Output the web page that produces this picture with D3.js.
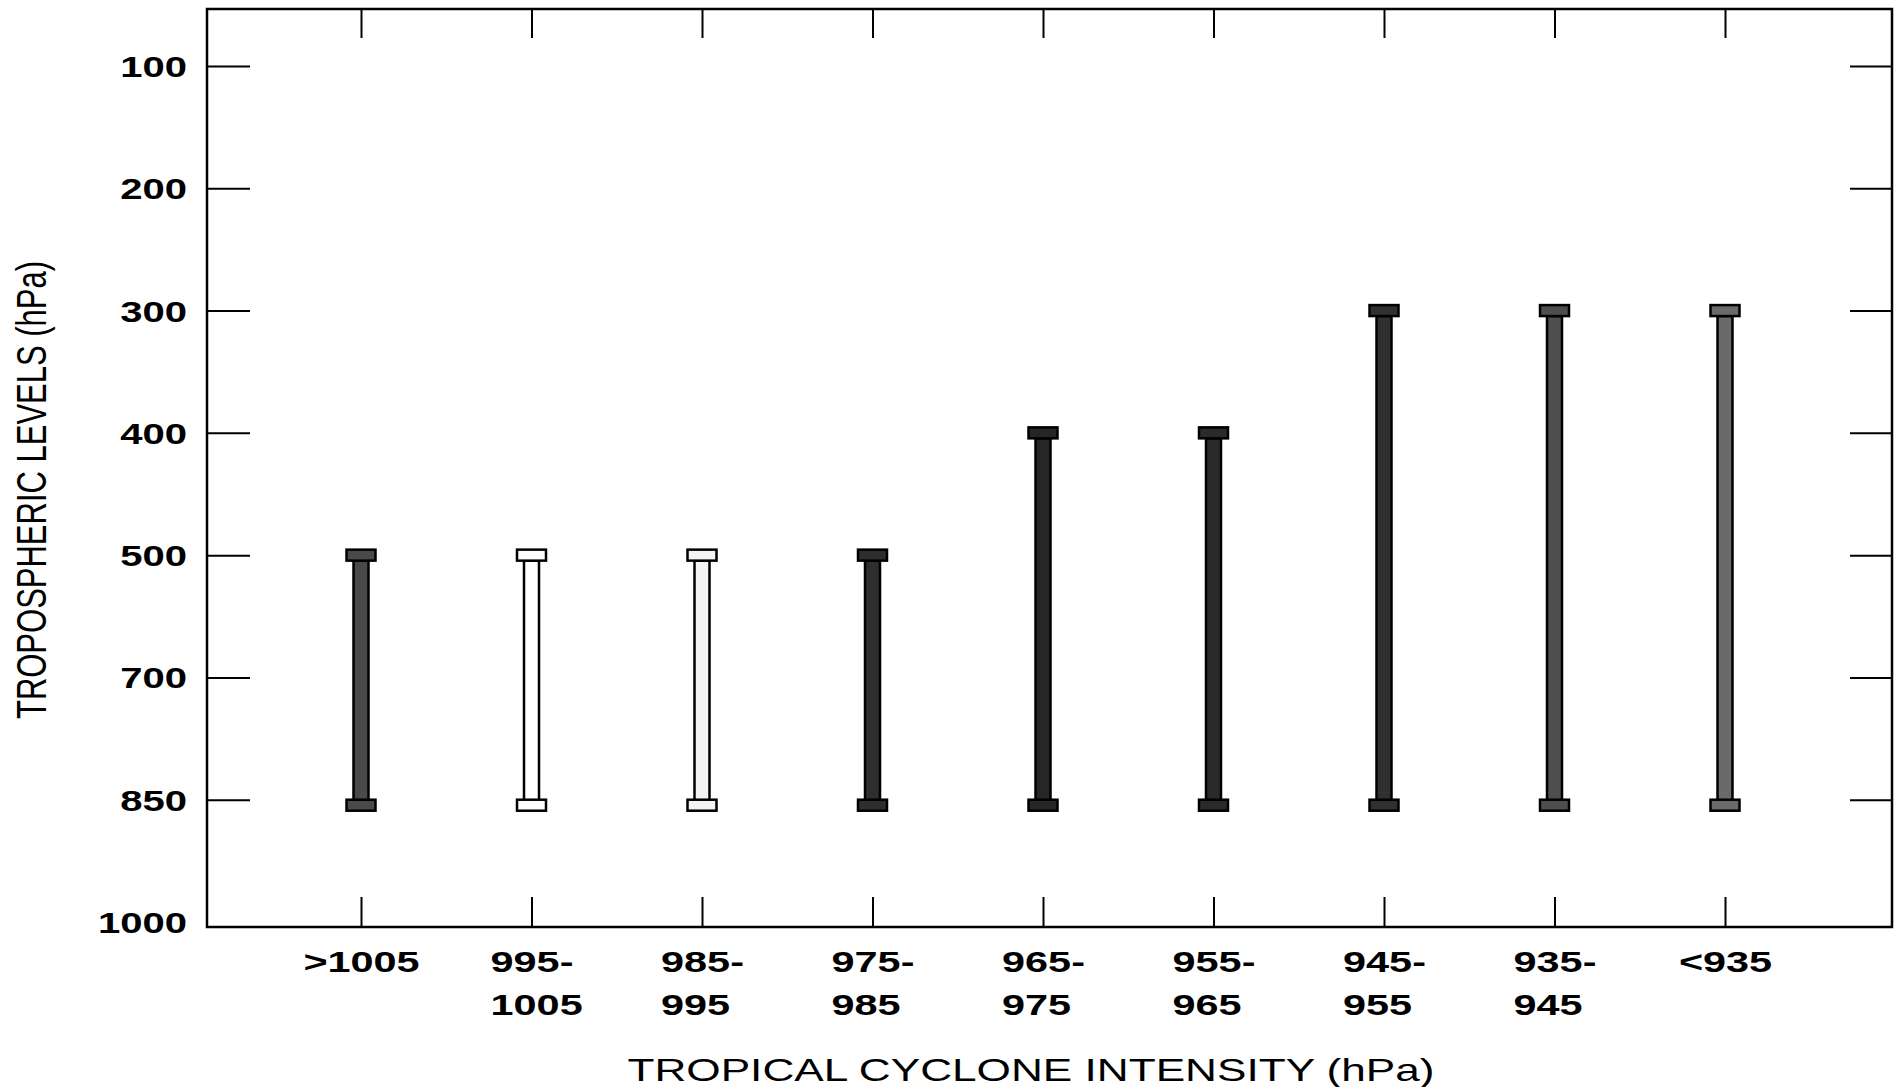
<!DOCTYPE html>
<html>
<head>
<meta charset="utf-8">
<script src="https://cdn.jsdelivr.net/npm/d3@7"></script>
<style>
  html, body { margin: 0; padding: 0; background: #fff; }
  svg { display: block; font-family: "Liberation Sans", Arial, Helvetica, sans-serif; }
</style>
</head>
<body>
<svg id="chart" width="1899" height="1087"></svg>
<script>
// ---------- data ----------
const categories = [">1005", "995-|1005", "985-|995", "975-|985", "965-|975", "955-|965", "945-|955", "935-|945", "<935"];
const topLevels    = [500, 500, 500, 500, 400, 400, 300, 300, 300];
const bottomLevels = [850, 850, 850, 850, 850, 850, 850, 850, 850];
const levelTicks = [100, 200, 300, 400, 500, 700, 850, 1000];
const xTitle = "TROPICAL CYCLONE INTENSITY (hPa)";
const yTitle = "TROPOSPHERIC LEVELS (hPa)";

// ---------- style ----------
const barFills = ["#4a4a4a", "#ffffff", "#f4f4f4", "#2e2e2e", "#262626", "#2a2a2a", "#303030", "#4e4e4e", "#6a6a6a"];
const SX = 1.38; // horizontal stretch of the scanned original
const frame = { left: 207, right: 1892, top: 9, bottom: 927 };

const svg = d3.select("#chart");

const x = d3.scalePoint().domain(categories).range([361, 1725]);
const y = d3.scalePoint().domain(levelTicks).range([66, 922]);

// frame
svg.append("rect")
  .attr("x", frame.left).attr("y", frame.top)
  .attr("width", frame.right - frame.left).attr("height", frame.bottom - frame.top)
  .attr("fill", "none").attr("stroke", "#000").attr("stroke-width", 2.5);

// left axis (inward ticks + labels)
const yLeft = svg.append("g")
  .attr("transform", `translate(${frame.left},0)`)
  .call(d3.axisLeft(y).tickSize(-43).tickSizeOuter(0).tickPadding(0));
yLeft.select(".domain").remove();
yLeft.selectAll(".tick line").attr("stroke", "#000").attr("stroke-width", 2)
  .filter(d => d === 1000).remove();
yLeft.selectAll(".tick text")
  .attr("x", 0).attr("dy", "0.36em")
  .attr("transform", `translate(-20,0) scale(${SX},1)`)
  .attr("text-anchor", "end")
  .attr("font-size", 29).attr("font-weight", "bold")
  .attr("font-family", "'Liberation Sans', Arial, sans-serif")
  .attr("fill", "#000");

// right axis (inward ticks only)
const yRight = svg.append("g")
  .attr("transform", `translate(${frame.right},0)`)
  .call(d3.axisRight(y).tickValues(levelTicks.filter(v => v !== 1000)).tickSize(-42).tickSizeOuter(0).tickFormat(""));
yRight.select(".domain").remove();
yRight.selectAll(".tick line").attr("stroke", "#000").attr("stroke-width", 2);

// top axis (inward ticks only)
const xTop = svg.append("g")
  .attr("transform", `translate(0,${frame.top})`)
  .call(d3.axisTop(x).tickSize(-29).tickSizeOuter(0).tickFormat(""));
xTop.select(".domain").remove();
xTop.selectAll(".tick line").attr("stroke", "#000").attr("stroke-width", 2);

// bottom axis (inward ticks + two-line labels)
const xBottom = svg.append("g")
  .attr("transform", `translate(0,${frame.bottom})`)
  .call(d3.axisBottom(x).tickSize(-30).tickSizeOuter(0).tickFormat(""));
xBottom.select(".domain").remove();
xBottom.selectAll(".tick line").attr("stroke", "#000").attr("stroke-width", 2);
xBottom.selectAll(".tick text").remove();
xBottom.selectAll(".tick").each(function(d) {
  const lines = d.split("|");
  const g = d3.select(this).append("g").attr("transform", `scale(${SX},1)`);
  const t1 = g.append("text")
    .attr("y", 45).attr("font-size", 30).attr("font-weight", "bold")
    .attr("fill", "#000").attr("text-anchor", "start")
    .text(lines[0]);
  const w = t1.node().getComputedTextLength();
  t1.attr("x", -w / 2);
  if (lines[1]) {
    g.append("text")
      .attr("x", -w / 2).attr("y", 88).attr("font-size", 30).attr("font-weight", "bold")
      .attr("fill", "#000").attr("text-anchor", "start")
      .text(lines[1]);
  }
});

// bars (I-beam columns)
const capW = 29, capH = 11, shaftW = 15;
const bars = svg.append("g").selectAll("g.bar")
  .data(categories.map((c, i) => ({ c, top: topLevels[i], bottom: bottomLevels[i], fill: barFills[i] })))
  .join("g").attr("class", "bar");

bars.append("rect")
  .attr("x", d => x(d.c) - shaftW / 2)
  .attr("y", d => y(d.top) + capH / 2)
  .attr("width", shaftW)
  .attr("height", d => y(d.bottom) - y(d.top) - capH / 2 + 1)
  .attr("fill", d => d.fill).attr("stroke", "#000").attr("stroke-width", 2.5);

bars.append("rect")
  .attr("x", d => x(d.c) - capW / 2)
  .attr("y", d => y(d.top) - capH / 2)
  .attr("width", capW).attr("height", capH)
  .attr("fill", d => d.fill).attr("stroke", "#000").attr("stroke-width", 2.5);

bars.append("rect")
  .attr("x", d => x(d.c) - capW / 2)
  .attr("y", d => y(d.bottom))
  .attr("width", capW).attr("height", capH)
  .attr("fill", d => d.fill).attr("stroke", "#000").attr("stroke-width", 2.5);

// axis titles
svg.append("text")
  .attr("transform", `translate(1031,1081) scale(${SX},1)`)
  .attr("text-anchor", "middle")
  .attr("font-size", 32).attr("fill", "#000")
  .text(xTitle);

svg.append("text")
  .attr("transform", `translate(31,490) scale(${SX},1) rotate(-90)`)
  .attr("text-anchor", "middle").attr("dy", "0.36em")
  .attr("font-size", 31).attr("fill", "#000")
  .text(yTitle);
</script>
</body>
</html>
